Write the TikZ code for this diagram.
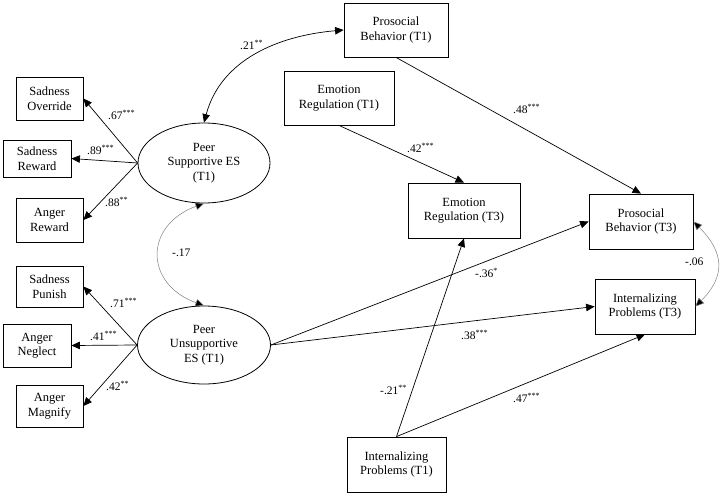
\documentclass[tikz,border=0pt]{standalone}
\usepackage{fontspec}
\setmainfont{Liberation Serif}
\usetikzlibrary{arrows.meta,shapes.geometric}
\begin{document}
\begin{tikzpicture}[x=1pt,y=-1pt,
  box/.style={draw, line width=0.8pt, rectangle, align=center, inner sep=0pt,
    font=\fontsize{12.5}{14.5}\selectfont},
  lat/.style={draw, line width=0.8pt, ellipse, align=center, inner sep=0pt,
    font=\fontsize{12.5}{14.5}\selectfont},
  tip/.style={-{Triangle[length=8.5pt,width=7.5pt]}},
  pth/.style={draw, line width=0.7pt, tip},
  cov/.style={draw, line width=0.7pt, {Triangle[length=8.5pt,width=7.5pt]}-{Triangle[length=8.5pt,width=7.5pt]}},
  gcov/.style={draw=gray, line width=0.5pt, {Triangle[length=8.5pt,width=7.5pt,fill=black]}-{Triangle[length=8.5pt,width=7.5pt,fill=black]}},
  coef/.style={font=\fontsize{11.5}{13}\selectfont, inner sep=0pt, anchor=west}]
\useasboundingbox (0,0) rectangle (720,495);

% indicators
\node[box, minimum width=67pt, minimum height=43pt] (SO) at (49.5,98.5) {Sadness\\Override};
\node[box, minimum width=68pt, minimum height=37pt] (SR) at (37,158.5) {Sadness\\Reward};
\node[box, minimum width=67pt, minimum height=44pt] (AR) at (49.5,220) {Anger\\Reward};
\node[box, minimum width=67pt, minimum height=41pt] (SP) at (49.5,286.5) {Sadness\\Punish};
\node[box, minimum width=68pt, minimum height=43pt] (AN) at (37,345.5) {Anger\\Neglect};
\node[box, minimum width=67pt, minimum height=42pt] (AM) at (49.5,406) {Anger\\Magnify};

% latent
\node[lat, minimum width=132pt, minimum height=80pt] (PS) at (204,163) {Peer\\Supportive ES\\(T1)};
\node[lat, minimum width=133pt, minimum height=78pt] (PU) at (204,345) {Peer\\Unsupportive\\ES (T1)};

% observed
\node[box, minimum width=104pt, minimum height=54pt] (PB1) at (396,30) {Prosocial\\Behavior (T1)};
\node[box, minimum width=110pt, minimum height=54pt] (ER1) at (339,98) {Emotion\\Regulation (T1)};
\node[box, minimum width=112pt, minimum height=55pt] (ER3) at (464,210.5) {Emotion\\Regulation (T3)};
\node[box, minimum width=104pt, minimum height=55pt] (PB3) at (641,221.5) {Prosocial\\Behavior (T3)};
\node[box, minimum width=100pt, minimum height=55pt] (IP3) at (645,306.5) {Internalizing\\Problems (T3)};
\node[box, minimum width=99pt, minimum height=55pt] (IP1) at (396.5,464.5) {Internalizing\\Problems (T1)};

% loadings
\draw[pth] (PS.west) -- (SO.east);
\draw[pth] (PS.west) -- (SR.east);
\draw[pth] (PS.west) -- (AR.east);
\draw[pth] (PU.west) -- (SP.east);
\draw[pth] (PU.west) -- (AN.east);
\draw[pth] (PU.west) -- (AM.east);

% structural paths
\draw[pth] (PB1.south) -- (PB3.north);
\draw[pth] (ER1.south) -- (ER3.north);
\draw[pth] (PU.east) -- (PB3.west);
\draw[pth] (PU.east) -- (IP3.west);
\draw[pth] (IP1.north) -- (ER3.south);
\draw[pth] (IP1.north) -- (IP3.south);

% covariances
\draw[cov] (PS.north) to[out=75, in=185] (PB1.west);
\draw[gcov] (PS.south) to[out=200, in=160, looseness=1.6] (PU.north);
\draw[gcov] (PB3.east) to[out=-45, in=45, looseness=1.3] (IP3.east);

% coefficients
\node[coef] (c21) at (240,45) {.21\textsuperscript{**}};
\node[coef] (c17) at (172,253) {-.17};
\node[coef] (c06) at (685,262) {-.06};
\node[coef] (c67) at (108,115) {.67\textsuperscript{***}};
\node[coef] (c89) at (87,150) {.89\textsuperscript{***}};
\node[coef] (c88) at (105,202) {.88\textsuperscript{**}};
\node[coef] (c71) at (110,303) {.71\textsuperscript{***}};
\node[coef] (c41) at (90,336) {.41\textsuperscript{***}};
\node[coef] (c42b) at (106,386) {.42\textsuperscript{**}};
\node[coef] (c48) at (513,109) {.48\textsuperscript{***}};
\node[coef] (c42) at (407,148) {.42\textsuperscript{***}};
\node[coef] (c36) at (475,273) {-.36\textsuperscript{*}};
\node[coef] (c38) at (461,335) {.38\textsuperscript{***}};
\node[coef] (c21b) at (380,390) {-.21\textsuperscript{**}};
\node[coef] (c47) at (513,398) {.47\textsuperscript{***}};
\end{tikzpicture}
\end{document}
